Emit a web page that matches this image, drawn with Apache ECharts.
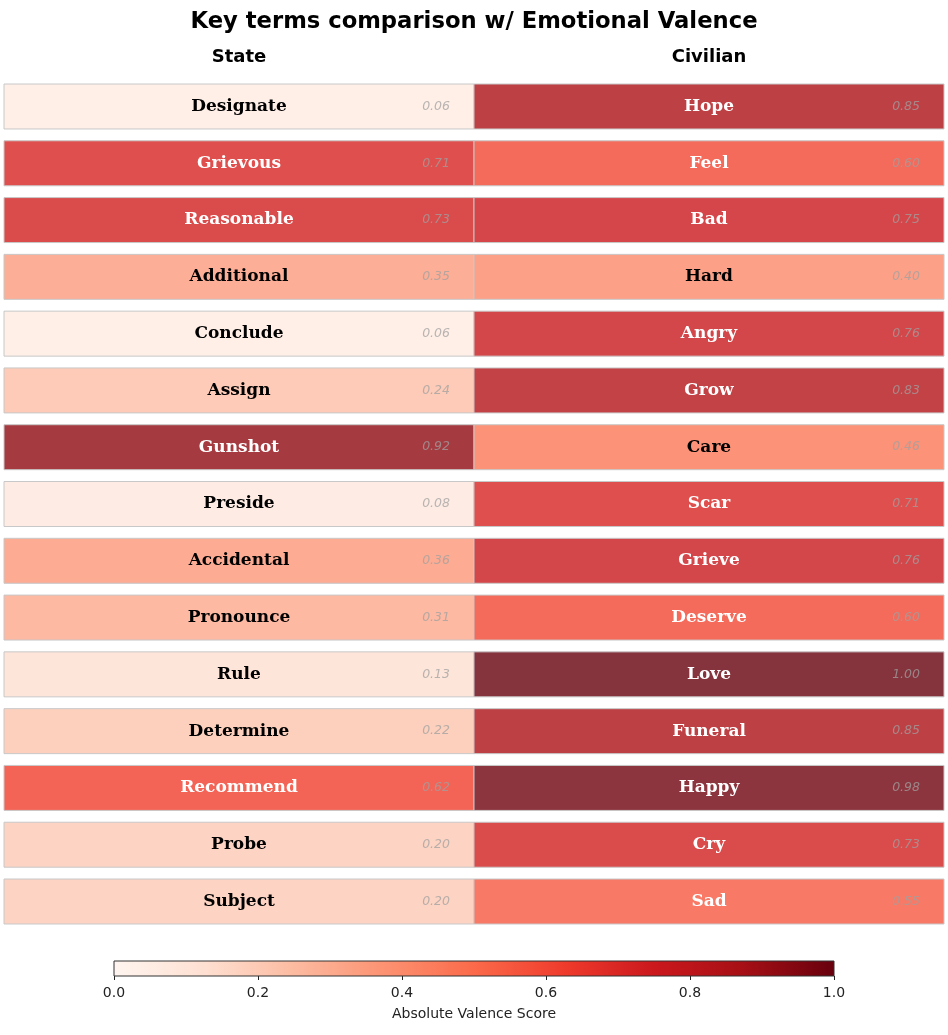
<!DOCTYPE html>
<html>
<head>
<meta charset="utf-8">
<script src="https://cdn.jsdelivr.net/npm/echarts@6/dist/echarts.min.js"></script>
<style>
html,body{margin:0;padding:0;background:#fff;}
#chart{width:948px;height:1035px;}
</style>
</head>
<body>
<div id="chart"></div>
<script>
var columns = ['State', 'Civilian'];
var stateTerms = ['Designate','Grievous','Reasonable','Additional','Conclude','Assign','Gunshot','Preside','Accidental','Pronounce','Rule','Determine','Recommend','Probe','Subject'];
var stateValues = [0.06,0.71,0.73,0.35,0.06,0.24,0.92,0.08,0.36,0.31,0.13,0.22,0.62,0.20,0.20];
var civilianTerms = ['Hope','Feel','Bad','Hard','Angry','Grow','Care','Scar','Grieve','Deserve','Love','Funeral','Happy','Cry','Sad'];
var civilianValues = [0.85,0.60,0.75,0.40,0.76,0.83,0.46,0.71,0.76,0.60,1.00,0.85,0.98,0.73,0.55];
var colorbarTicks = [0, 0.2, 0.4, 0.6, 0.8, 1.0];

// matplotlib "Reds" colormap anchors
var reds = ['#fff5f0','#fee0d2','#fcbba1','#fc9272','#fb6a4a','#ef3b2c','#cb181d','#a50f15','#67000d'];

function hexToRgb(h){return [parseInt(h.substr(1,2),16),parseInt(h.substr(3,2),16),parseInt(h.substr(5,2),16)];}
function redsColor(v, alpha){
  v = Math.max(0, Math.min(1, v));
  var p = v * (reds.length - 1);
  var i = Math.min(Math.floor(p), reds.length - 2);
  var t = p - i;
  var a = hexToRgb(reds[i]), b = hexToRgb(reds[i+1]);
  var c = [0,1,2].map(function(k){return a[k] + (b[k]-a[k])*t;});
  if (alpha !== undefined) c = c.map(function(x){return x*alpha + 255*(1-alpha);});
  return 'rgb(' + c.map(function(x){return Math.round(x);}).join(',') + ')';
}

var rows = stateTerms.map(function(_, i){return String(i);});
var cellData = [];
stateTerms.forEach(function(t, i){cellData.push([0, i, stateValues[i], t]);});
civilianTerms.forEach(function(t, i){cellData.push([1, i, civilianValues[i], t]);});

var chart = echarts.init(document.getElementById('chart'), null, {renderer:'canvas'});

var gradStops = reds.map(function(c, i){return {offset: i/(reds.length-1), color: c};});

var option = {
  backgroundColor: '#ffffff',
  animation: false,
  title: {
    text: 'Key terms comparison w/ Emotional Valence',
    left: 'center', top: 6,
    textStyle: {fontFamily: 'DejaVu Sans', fontWeight: 'bold', fontSize: 22.7, color: '#000'}
  },
  grid: [
    {left: 4, right: 4, top: 78.1, height: 851.8},
    {left: 114, width: 720, top: 961, height: 15}
  ],
  xAxis: [
    {
      gridIndex: 0, type: 'category', data: columns, position: 'top',
      axisLine: {show: false}, axisTick: {show: false}, splitLine: {show: false},
      axisLabel: {fontFamily: 'DejaVu Sans', fontWeight: 'bold', fontSize: 18, color: '#000', margin: 12}
    },
    {
      gridIndex: 1, type: 'value', min: 0, max: 1, interval: 0.2,
      axisLine: {show: false}, splitLine: {show: false},
      axisTick: {show: true, length: 4, lineStyle: {color: '#222', width: 1}},
      axisLabel: {fontFamily: 'DejaVu Sans', fontSize: 14, color: '#222', margin: 10,
        formatter: function(v){return v.toFixed(1);}},
      name: 'Absolute Valence Score', nameLocation: 'middle', nameGap: 31,
      nameTextStyle: {fontFamily: 'DejaVu Sans', fontSize: 14, color: '#222'}
    }
  ],
  yAxis: [
    {gridIndex: 0, type: 'category', data: rows, inverse: true, show: false},
    {gridIndex: 1, type: 'category', data: ['cb'], show: false}
  ],
  series: [
    {
      type: 'custom', xAxisIndex: 0, yAxisIndex: 0,
      data: cellData,
      renderItem: function(params, api){
        var x = api.value(0), y = api.value(1), v = api.value(2);
        var term = cellData[params.dataIndex][3];
        var c = api.coord([x, y]);
        var s = api.size([1, 1]);
        var w = s[0], h = s[1] * 0.792;
        var x0 = c[0] - w/2, y0 = c[1] - h/2;
        return {
          type: 'group',
          children: [
            {type: 'rect', shape: {x: x0, y: y0, width: w, height: h},
             style: {fill: redsColor(v, 0.8), stroke: '#c8c8c8', lineWidth: 1}},
            {type: 'text', style: {x: c[0], y: c[1], text: term, align: 'center', verticalAlign: 'middle',
              font: 'bold 17px "DejaVu Serif"', fill: v >= 0.5 ? '#ffffff' : '#000000'}},
            {type: 'text', style: {x: x0 + w - 24, y: c[1], text: v.toFixed(2), align: 'right', verticalAlign: 'middle',
              font: 'italic 12.5px "DejaVu Sans"', fill: 'rgba(160,160,160,0.75)'}}
          ]
        };
      }
    },
    {
      type: 'custom', xAxisIndex: 1, yAxisIndex: 1,
      data: [[0, 0, 1]],
      renderItem: function(params, api){
        var a = api.coord([api.value(0), 0]);
        var b = api.coord([api.value(2), 0]);
        var h = api.size([0, 1])[1];
        return {type: 'rect', shape: {x: a[0], y: a[1] - h/2, width: b[0]-a[0], height: h},
          style: {fill: new echarts.graphic.LinearGradient(0,0,1,0, gradStops), stroke: '#333', lineWidth: 1}};
      }
    }
  ]
};
chart.setOption(option);
</script>
</body>
</html>
